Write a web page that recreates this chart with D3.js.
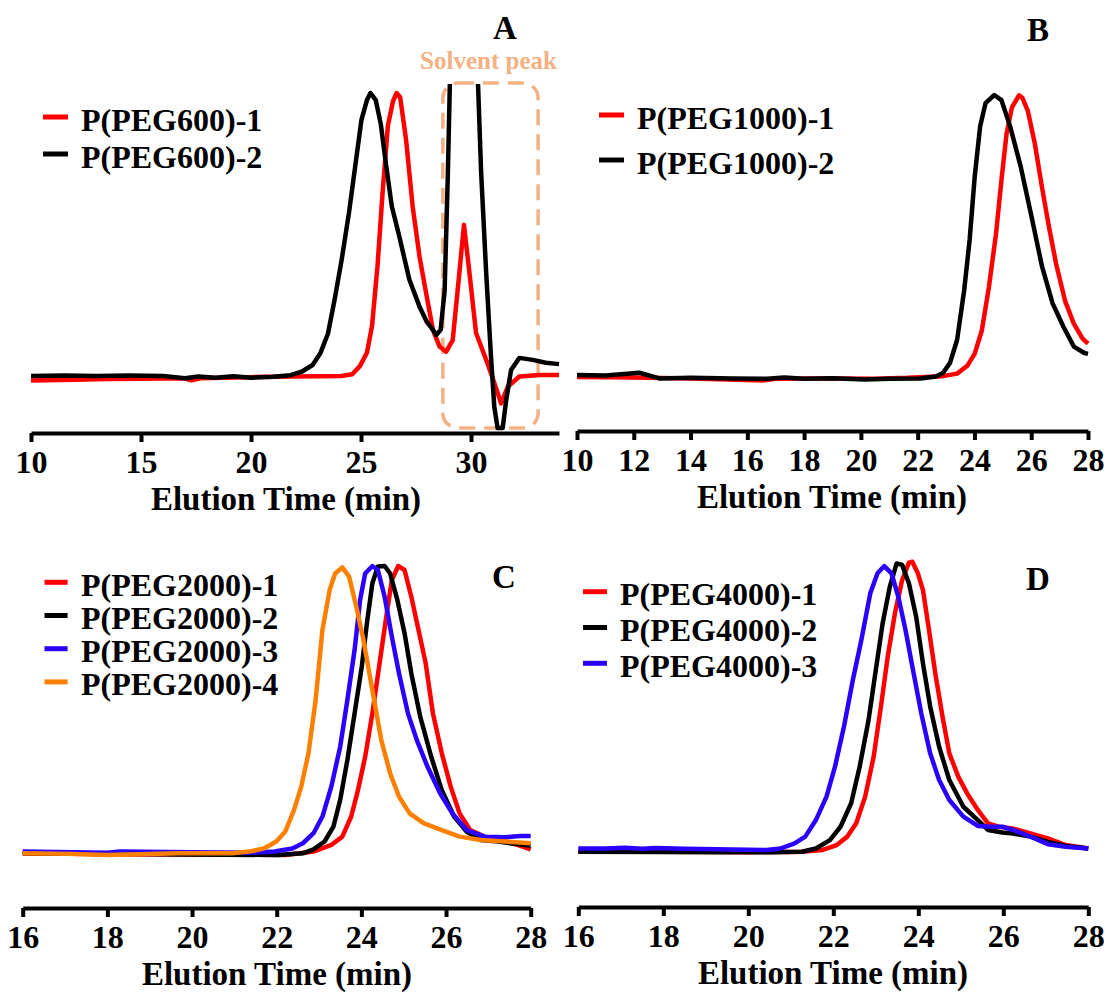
<!DOCTYPE html>
<html><head><meta charset="utf-8">
<script src="https://cdn.jsdelivr.net/npm/d3@7"></script>
<style>
html,body{margin:0;padding:0;background:#fff;}
svg{display:block;}
text{font-family:"Liberation Serif","Tinos","Times New Roman","DejaVu Serif",serif;font-weight:bold;}
</style></head><body>
<svg id="chart" width="1108" height="994"></svg>
<script>
// ---- GPC traces: [elution time (min), relative signal (main peak = 100)] ----
const peg600_1 = [[10,-1.6],[12,-1.3],[13.4,-1.1],[15,-1],[16.95,-0.8],[17.3,-1.5],[17.7,-0.8],[19.85,-0.4],[22,-0.2],[24.1,0],[24.6,0.6],[24.95,3.5],[25.27,8.2],[25.5,17.6],[25.75,38.8],[25.98,64.7],[26.22,88.3],[26.45,97],[26.62,100],[26.78,98.5],[27.05,83.4],[27.35,59.8],[27.66,42.2],[27.96,29.3],[28.27,16.3],[28.57,10.4],[28.87,8.6],[29.17,12.7],[29.47,36.4],[29.68,53.4],[29.93,36.4],[30.23,15.2],[30.69,5.7],[31.06,-2.5],[31.37,-9.7],[31.67,-3.8],[32.2,-0.2],[33.1,0.35],[34,0.35]];
const peg600_2 = [[10,0],[11.5,0.2],[13,0],[14.5,0.2],[16,0],[17,-0.8],[17.6,-0.2],[18.4,-0.6],[19.2,-0.1],[20,-0.6],[21,-0.3],[21.8,0.3],[22.3,1.5],[22.8,3.9],[23.15,8],[23.5,15],[23.8,27],[24.12,41],[24.45,57.5],[24.77,76],[25.02,90.5],[25.27,97.5],[25.43,100],[25.67,97.5],[25.9,89],[26.15,74],[26.4,60],[26.75,49],[27.2,34],[27.66,24.5],[28.0,19],[28.27,16.3],[28.42,14.5],[28.62,16.3],[28.8,30],[28.95,72],[29.1,125],[29.6,170],[30.2,125],[30.32,103],[30.46,72],[30.69,36.4],[30.91,6.7],[31.06,-11],[31.21,-18.4],[31.44,-18.4],[31.6,-8.5],[31.82,2.1],[32.2,6.4],[32.8,5.7],[33.4,4.7],[34,4.2]];

const peg1000_1 = [[10,0],[12,-0.2],[14,-0.5],[16.6,-1.2],[17,-0.6],[19,-0.5],[20.5,-0.6],[21.65,-0.3],[22.89,0.3],[23.39,1.2],[23.76,4.1],[24.01,8.3],[24.26,16.5],[24.51,31.9],[24.76,50.8],[24.95,69.7],[25.13,86.2],[25.32,95.6],[25.57,99.9],[25.69,99],[25.88,94.4],[26.13,82.6],[26.38,67.2],[26.63,53],[26.88,40],[27.19,27.1],[27.5,18.9],[27.81,13.6],[28,11.8]];
const peg1000_2 = [[10,0.7],[11,0.5],[12.2,1.5],[12.9,-0.5],[14,-0.3],[15.5,-0.5],[16.7,-0.6],[17.3,-0.2],[18,-0.6],[19,-0.4],[20.15,-0.9],[21,-0.6],[22.1,-0.5],[22.64,0.2],[22.89,1.4],[23.14,5],[23.39,13.2],[23.64,30.9],[23.83,48.6],[24.01,71.1],[24.2,88.8],[24.39,97.1],[24.7,100],[24.95,98.2],[25.26,88.8],[25.63,74.6],[26.01,56.9],[26.38,39.2],[26.75,26.2],[27.13,17.9],[27.5,10.8],[27.87,8.5],[28,8.2]];

const peg2000_1 = [[16,0],[18,-0.3],[20,-0.4],[22.2,-0.6],[22.87,0.6],[23.29,2.9],[23.55,5.8],[23.76,12.8],[23.92,22],[24.09,33.6],[24.26,48.7],[24.43,66.1],[24.6,83.5],[24.72,95.1],[24.87,100],[25.02,98.6],[25.18,89.3],[25.35,77.7],[25.52,66.1],[25.69,48.7],[25.9,34.8],[26.11,23.2],[26.32,13.9],[26.57,8.1],[26.91,5.8],[27.24,4.6],[27.58,3.5],[28,1.4]];
const peg2000_2 = [[16,0],[18,-0.2],[20,-0.4],[22.03,-0.6],[22.62,0],[22.87,1.4],[23.13,4.1],[23.34,9.3],[23.5,18.6],[23.67,32.5],[23.84,48.7],[24.01,65],[24.13,80],[24.26,94],[24.39,99.8],[24.55,100],[24.68,97.4],[24.85,88.2],[25.02,76.6],[25.18,62.6],[25.39,47.6],[25.65,33.6],[25.9,22],[26.19,12.8],[26.49,7.5],[26.82,4.6],[27.24,4.1],[27.66,3.2],[28,2.6]];
const peg2000_3 = [[16,0.6],[18,0.2],[18.3,0.6],[20,0.4],[21.36,0.2],[21.95,0.6],[22.37,1.7],[22.62,3.5],[22.87,7],[23.08,12.8],[23.29,23.2],[23.5,37.1],[23.67,53.4],[23.84,70.8],[23.97,88.2],[24.09,97.4],[24.26,100],[24.39,98.6],[24.55,89.3],[24.72,75.4],[24.89,62.6],[25.1,48.7],[25.31,39.4],[25.56,30.2],[25.86,20.9],[26.15,13.9],[26.49,8.1],[26.91,5.8],[27.41,5.6],[27.75,6],[28,6]];
const peg2000_4 = [[16,0],[17.16,-0.2],[18,-0.6],[19.68,0],[20.94,0],[21.36,0.6],[21.7,1.7],[21.99,4.1],[22.2,7.5],[22.41,15.1],[22.58,23.2],[22.75,34.8],[22.92,53.4],[23.08,77.7],[23.25,91.6],[23.38,97.4],[23.55,99.5],[23.71,96.3],[23.88,85.8],[24.05,74.2],[24.26,56.8],[24.47,39.4],[24.68,27.8],[24.89,19.7],[25.14,13.9],[25.48,10.4],[25.9,8.1],[26.32,5.8],[26.82,4.6],[27.41,4.1],[28,3.5]];

const peg4000_1 = [[16,0],[18,0],[20,-0.2],[21.26,0],[21.75,0.6],[22.08,2.3],[22.33,5.2],[22.54,9.8],[22.75,19],[22.95,32.8],[23.12,50],[23.28,67.2],[23.45,82.2],[23.62,93.7],[23.78,99.7],[23.86,100],[23.99,96],[24.11,90.2],[24.24,77.6],[24.4,61.5],[24.57,46.6],[24.73,33.9],[24.94,25.9],[25.15,20.1],[25.4,14.4],[25.64,9.8],[25.89,8.6],[26.22,8],[26.64,6.3],[27.05,4.6],[27.47,2.3],[28,1.1]];
const peg4000_2 = [[16,0],[18,-0.1],[20.43,-0.2],[21.26,0],[21.59,1.1],[21.92,4],[22.17,8.6],[22.42,16.7],[22.62,29.3],[22.83,45.4],[23,62.6],[23.16,78.7],[23.33,91.4],[23.49,99.4],[23.62,98.9],[23.78,92.5],[23.95,81],[24.11,64.9],[24.28,50],[24.49,36.2],[24.73,24.7],[25.06,15.5],[25.4,10.9],[25.64,7.5],[25.98,6.6],[26.22,6.3],[26.64,5.2],[27.05,3.4],[27.47,2],[28,1.1]];
const peg4000_3 = [[16,1.1],[16.62,1.1],[17.1,1.4],[17.5,1.0],[17.8,1.3],[18.5,1.0],[20.43,0.6],[20.76,1.1],[21.09,2.9],[21.34,5.2],[21.59,10.9],[21.84,19],[22.04,29.3],[22.25,43.1],[22.46,59.2],[22.66,73],[22.87,89.1],[23.04,96],[23.2,98.5],[23.37,96],[23.53,87.9],[23.7,76.4],[23.86,63.8],[24.07,47.7],[24.28,33.9],[24.49,24.7],[24.73,17.8],[25.06,12.1],[25.4,8.9],[25.73,8.6],[25.98,8.6],[26.22,7.5],[26.64,5.2],[27.05,2.6],[27.47,1.7],[28,1.1]];

// ---- axis ticks and labels ----
const ticksA = [10, 15, 20, 25, 30];
const ticksB = [10, 12, 14, 16, 18, 20, 22, 24, 26, 28];
const ticksCD = [16, 18, 20, 22, 24, 26, 28];
const xTitle = "Elution Time (min)";
const namesA = ["P(PEG600)-1", "P(PEG600)-2"];
const namesB = ["P(PEG1000)-1", "P(PEG1000)-2"];
const namesC = ["P(PEG2000)-1", "P(PEG2000)-2", "P(PEG2000)-3", "P(PEG2000)-4"];
const namesD = ["P(PEG4000)-1", "P(PEG4000)-2", "P(PEG4000)-3"];
const solventLabel = "Solvent peak";
const solventRange = [28.72, 33.05];

const RED = "#ff0000", BLACK = "#000000", BLUE = "#2a00ff", ORANGE = "#ff8000";
const SOLVENT = "#f4b183";

const svg = d3.select("#chart");

const panels = [
  { letter: "A", letterX: 505, letterY: 39,
    xDomain: [10, 34], xRange: [31, 559], yRange: [376, 93], axisY: 433, ticks: ticksA, titleX: 286,
    series: [peg600_1, peg600_2], names: namesA, colors: [RED, BLACK],
    legend: { x0: 43, x1: 68, tx: 81, y0: 117, dy: 37 }, clipTop: 84 },
  { letter: "B", letterX: 1038, letterY: 41,
    xDomain: [10, 28], xRange: [577, 1088], yRange: [377, 95], axisY: 431, ticks: ticksB, titleX: 832,
    series: [peg1000_1, peg1000_2], names: namesB, colors: [RED, BLACK],
    legend: { x0: 599, x1: 624, tx: 637, y0: 115, dy: 45 } },
  { letter: "C", letterX: 504, letterY: 588,
    xDomain: [16, 28], xRange: [22.7, 530.7], yRange: [853.3, 566], axisY: 908, ticks: ticksCD, titleX: 277,
    series: [peg2000_1, peg2000_2, peg2000_3, peg2000_4], names: namesC, colors: [RED, BLACK, BLUE, ORANGE],
    legend: { x0: 44.5, x1: 67.6, tx: 81, y0: 582.3, dy: 33.2 } },
  { letter: "D", letterX: 1038, letterY: 590,
    xDomain: [16, 28], xRange: [578.3, 1088.3], yRange: [851.7, 561.7], axisY: 907, ticks: ticksCD, titleX: 833,
    series: [peg4000_1, peg4000_2, peg4000_3], names: namesD, colors: [RED, BLACK, BLUE],
    legend: { x0: 583, x1: 607, tx: 620, y0: 591.7, dy: 35.8 } }
];

const defs = svg.append("defs");

panels.forEach((p, pi) => {
  const x = d3.scaleLinear().domain(p.xDomain).range(p.xRange);
  const y = d3.scaleLinear().domain([0, 100]).range(p.yRange);
  const g = svg.append("g").attr("class", "panel-" + p.letter);

  // solvent region marker (panel A only)
  if (p.letter === "A") {
    const bx0 = x(solventRange[0]), bx1 = x(solventRange[1]);
    g.append("rect")
      .attr("x", bx0).attr("y", 83)
      .attr("width", bx1 - bx0).attr("height", 428 - 83)
      .attr("rx", 15).attr("ry", 15)
      .attr("fill", "none").attr("stroke", SOLVENT)
      .attr("stroke-width", 3.5).attr("stroke-dasharray", "16 9");
    g.append("text")
      .attr("x", (bx0 + bx1) / 2 - 2).attr("y", 69)
      .attr("text-anchor", "middle")
      .attr("font-size", 25).attr("fill", SOLVENT)
      .text(solventLabel);
  }

  // traces
  const lg = g.append("g");
  if (p.clipTop !== undefined) {
    const id = "clip" + pi;
    defs.append("clipPath").attr("id", id)
      .append("rect").attr("x", 0).attr("y", p.clipTop).attr("width", 1108).attr("height", 994 - p.clipTop);
    lg.attr("clip-path", `url(#${id})`);
  }
  const line = d3.line().x(d => x(d[0])).y(d => y(d[1]));
  p.series.forEach((s, i) => {
    lg.append("path")
      .attr("d", line(s))
      .attr("fill", "none")
      .attr("stroke", p.colors[i])
      .attr("stroke-width", 4.5)
      .attr("stroke-linejoin", "round");
  });

  // bottom axis
  const ax = g.append("g")
    .attr("transform", `translate(0,${p.axisY})`)
    .call(d3.axisBottom(x).tickValues(p.ticks).tickSize(9).tickSizeOuter(0).tickFormat(d3.format("d")));
  ax.select(".domain").attr("stroke", "#000").attr("stroke-width", 4);
  ax.selectAll(".tick line").attr("stroke", "#000").attr("stroke-width", 4);
  ax.selectAll(".tick text")
    .attr("y", 40).attr("dy", 0)
    .attr("fill", "#000")
    .attr("font-size", 32)
    .attr("font-family", null)
    .attr("font-weight", "bold");
  ax.attr("font-family", null);

  g.append("text")
    .attr("x", p.titleX).attr("y", p.axisY + 77)
    .attr("text-anchor", "middle")
    .attr("font-size", 33)
    .text(xTitle);

  // panel letter
  g.append("text")
    .attr("x", p.letterX).attr("y", p.letterY)
    .attr("text-anchor", "middle")
    .attr("font-size", 33)
    .text(p.letter);

  // legend
  p.names.forEach((n, i) => {
    const ly = p.legend.y0 + i * p.legend.dy;
    g.append("line")
      .attr("x1", p.legend.x0).attr("x2", p.legend.x1)
      .attr("y1", ly).attr("y2", ly)
      .attr("stroke", p.colors[i]).attr("stroke-width", 5);
    g.append("text")
      .attr("x", p.legend.tx).attr("y", ly + 13.5)
      .attr("font-size", 32)
      .text(n);
  });
});
</script>
</body></html>
